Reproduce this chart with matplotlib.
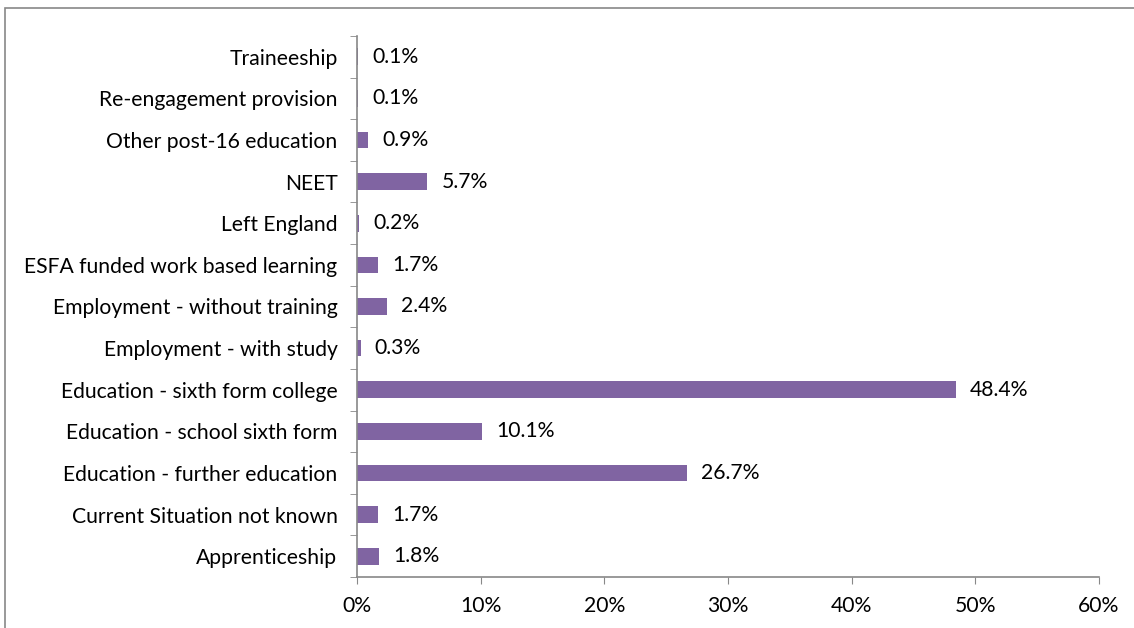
import matplotlib
matplotlib.use("Agg")
import matplotlib.pyplot as plt
from matplotlib.patches import Rectangle
import numpy as np

categories = ["Apprenticeship", "Current Situation not known", "Education - further education",
              "Education - school sixth form", "Education - sixth form college",
              "Employment - with study", "Employment - without training",
              "ESFA funded work based learning", "Left England", "NEET",
              "Other post-16 education", "Re-engagement provision", "Traineeship"]
values = [1.8, 1.7, 26.7, 10.1, 48.4, 0.3, 2.4, 1.7, 0.2, 5.7, 0.9, 0.1, 0.1]
xticks = [0, 10, 20, 30, 40, 50, 60]

plt.rcParams['font.family'] = ['Lato', 'DejaVu Sans']
FS = 15.2
fig = plt.figure(figsize=(11.34, 6.28), dpi=100)
ax = fig.add_axes([357/1134, 1-577/628, (1099-357)/1134, (577-36)/628])

fig.patches.append(Rectangle((5/1134, -0.1), 1.2, 1-8/628+0.1, transform=fig.transFigure,
                             fill=False, edgecolor='#888888', linewidth=1.2))

y = np.arange(len(categories))
ax.barh(y, values, height=0.4, color='#8064A2')
for yi, v in zip(y, values):
    ax.annotate(f"{v:.1f}%", (v, yi), xytext=(10, 0), textcoords='offset points',
                va='center', ha='left', fontsize=FS, color='black')

ax.set_xlim(0, 60)
ax.set_ylim(-0.5, len(categories) - 0.5)
ax.set_xticks(xticks)
ax.set_xticklabels([f"{t}%" for t in xticks], fontsize=FS)
ax.set_yticks(y)
ax.set_yticklabels(categories, fontsize=FS)
ax.set_yticks(np.arange(-0.5, len(categories)), minor=True)
ax.tick_params(axis='y', which='major', length=0, pad=14)
ax.tick_params(axis='y', which='minor', length=5, color='#888888')
ax.tick_params(axis='x', length=5, color='#888888', pad=9)
for s in ['top', 'right']:
    ax.spines[s].set_visible(False)
for s in ['left', 'bottom']:
    ax.spines[s].set_color('#888888')
    ax.spines[s].set_linewidth(1.2)

fig.savefig("out.png", dpi=100)
